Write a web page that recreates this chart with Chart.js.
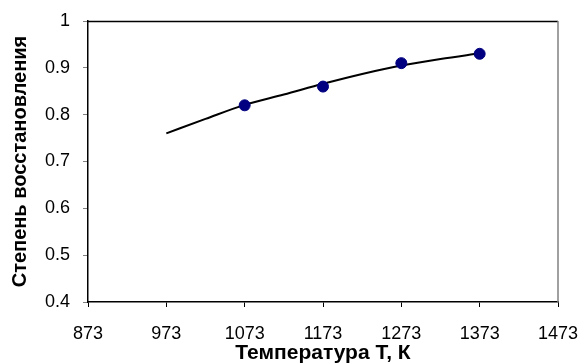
<!DOCTYPE html>
<html>
<head>
<meta charset="utf-8">
<script src="https://cdn.jsdelivr.net/npm/chart.js@4.4.0/dist/chart.umd.min.js"></script>
<style>
html,body{margin:0;padding:0;background:#fff;}
#wrap{width:580px;height:364px;}
</style>
</head>
<body>
<div id="wrap"><canvas id="c" width="580" height="364"></canvas></div>
<script>
const pointT = [1073, 1173, 1273, 1373];
const pointV = [0.82, 0.86, 0.91, 0.93];
const curveT = [973, 1023, 1073, 1123, 1173, 1223, 1273, 1323, 1373];
const curveV = [0.760, 0.791, 0.821, 0.843, 0.866, 0.887, 0.905, 0.919, 0.931];
const xTicks = [873, 973, 1073, 1173, 1273, 1373, 1473];
const yTicks = [0.4, 0.5, 0.6, 0.7, 0.8, 0.9, 1];
const xTitle = 'Температура Т, К';
const yTitle = 'Степень восстановления';

const frame = {
  id: 'frame',
  afterDraw(chart) {
    const a = chart.chartArea, ctx = chart.ctx;
    ctx.save();
    ctx.lineWidth = 1.5;
    ctx.strokeStyle = '#000';
    ctx.beginPath();
    ctx.moveTo(a.left, a.top + 0.5);
    ctx.lineTo(a.right, a.top + 0.5);
    ctx.stroke();
    ctx.strokeStyle = '#808080';
    ctx.beginPath();
    ctx.moveTo(a.right, a.top);
    ctx.lineTo(a.right, a.bottom);
    ctx.stroke();
    ctx.restore();
  }
};

new Chart(document.getElementById('c'), {
  type: 'scatter',
  data: {
    datasets: [
      {
        data: curveT.map((t, i) => ({x: t, y: curveV[i]})),
        showLine: true,
        borderColor: '#000',
        borderWidth: 2,
        pointRadius: 0,
        cubicInterpolationMode: 'monotone',
        order: 2
      },
      {
        data: pointT.map((t, i) => ({x: t, y: pointV[i]})),
        showLine: false,
        pointRadius: 5.5,
        pointBackgroundColor: '#000080',
        pointBorderColor: '#000080',
        order: 1
      }
    ]
  },
  options: {
    responsive: false,
    animation: false,
    devicePixelRatio: 1,
    layout: {padding: {top: 21, right: 22, left: 0, bottom: 0}},
    plugins: {legend: {display: false}, tooltip: {enabled: false}},
    scales: {
      x: {
        type: 'linear',
        min: 873, max: 1473,
        afterBuildTicks(s) { s.ticks = xTicks.map(v => ({value: v})); },
        afterFit(s) { s.height = 62; s.paddingLeft = 0; s.paddingRight = 0; },
        border: {color: '#000', width: 1.5},
        grid: {display: true, drawOnChartArea: false, drawTicks: true, tickLength: 5, color: '#000'},
        ticks: {color: '#000', font: {family: 'Liberation Sans', size: 18}, padding: 16, maxRotation: 0, autoSkip: false, callback: v => String(v)},
        title: {display: true, text: xTitle, color: '#000', font: {family: 'Liberation Sans', size: 21, weight: 'bold', lineHeight: 1}, padding: {top: 0, bottom: 0}}
      },
      y: {
        type: 'linear',
        min: 0.4, max: 1,
        afterBuildTicks(s) { s.ticks = yTicks.map(v => ({value: v})); },
        afterFit(s) { s.width = 88; s.paddingTop = 0; s.paddingBottom = 0; },
        border: {color: '#000', width: 1.5},
        grid: {display: true, drawOnChartArea: false, drawTicks: true, tickLength: 5, color: '#808080'},
        ticks: {color: '#000', font: {family: 'Liberation Sans', size: 18}, padding: 13, callback: v => String(v)},
        title: {display: true, text: yTitle, color: '#000', font: {family: 'Liberation Sans', size: 20, weight: 'bold'}, padding: {top: 8, bottom: 4}}
      }
    }
  },
  plugins: [frame]
});
</script>
</body>
</html>
